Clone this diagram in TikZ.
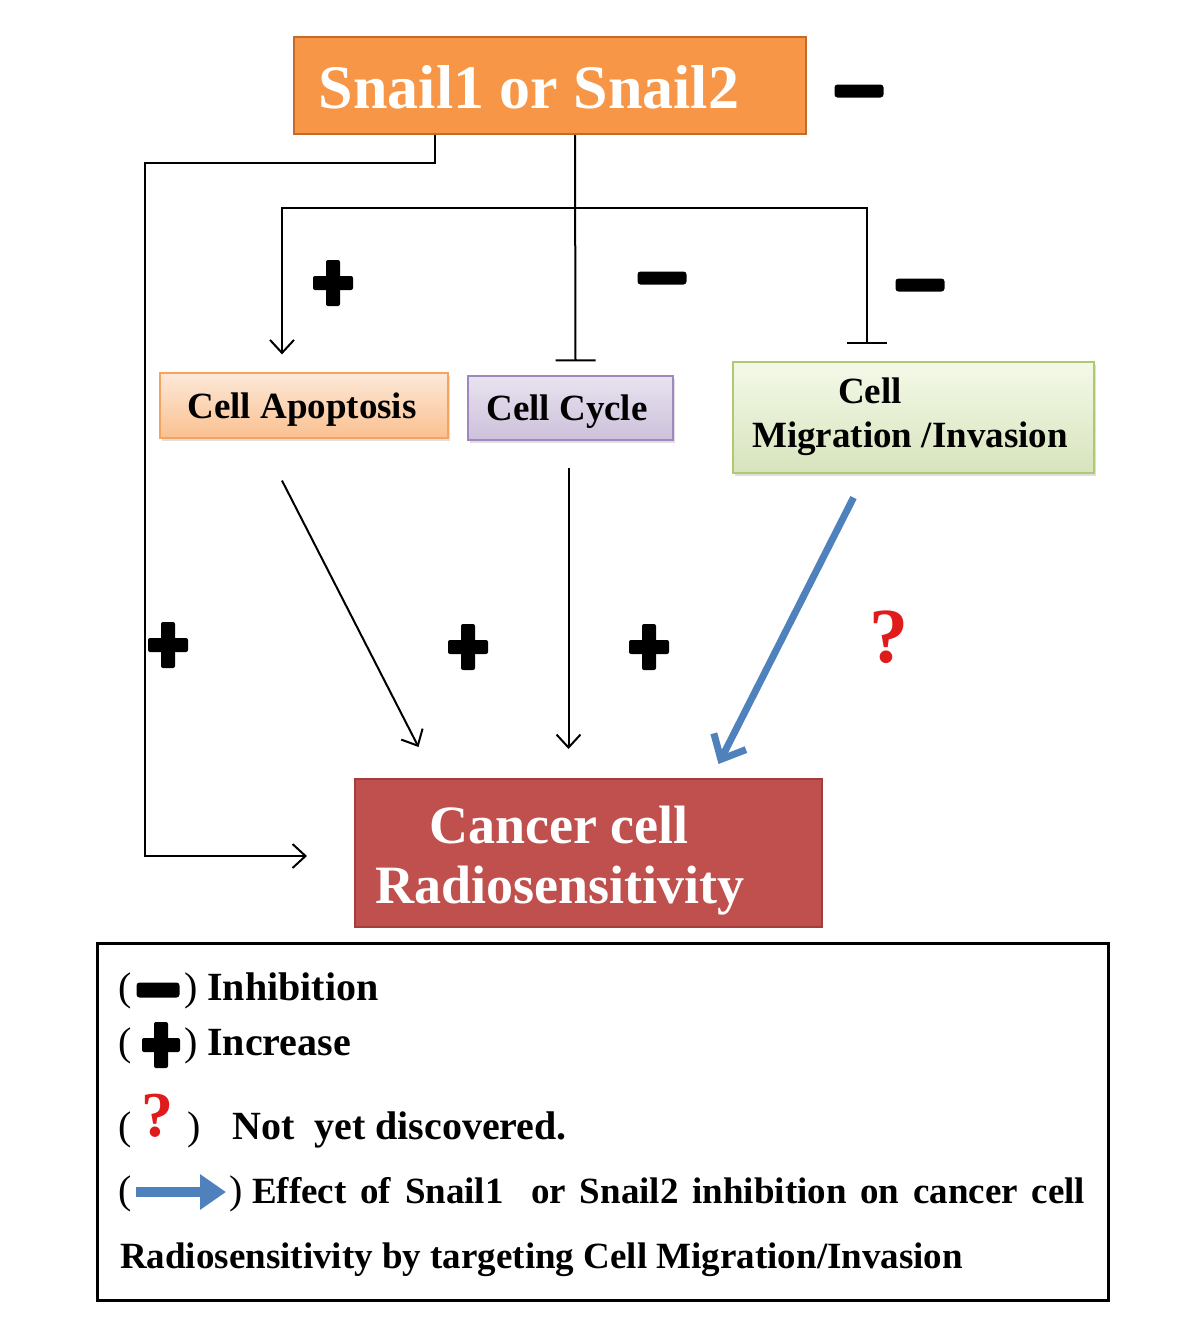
\documentclass[tikz,border=0pt]{standalone}
\usepackage{fontspec}
\setmainfont{Liberation Serif}
\usetikzlibrary{arrows.meta,shadows}
\definecolor{snailorange}{HTML}{F79646}
\definecolor{snailborder}{HTML}{C46A2B}
\definecolor{apoptop}{HTML}{FDE9D9}
\definecolor{apopbot}{HTML}{FAC090}
\definecolor{apopline}{HTML}{F4A460}
\definecolor{cyctop}{HTML}{E9E3F0}
\definecolor{cycbot}{HTML}{CCC1DA}
\definecolor{cycline}{HTML}{9F88BF}
\definecolor{migtop}{HTML}{F4F9E8}
\definecolor{migbot}{HTML}{D7E4BD}
\definecolor{migline}{HTML}{AFC970}
\definecolor{cancerred}{HTML}{C0504D}
\definecolor{cancerline}{HTML}{A33E3B}
\definecolor{arrowblue}{HTML}{4F81BD}
\definecolor{qred}{HTML}{E01B1B}
\begin{document}
\begin{tikzpicture}[x=1pt,y=-1pt,
  box/.style={draw, inner sep=0pt},
  midbox/.style={box, line width=1.2pt, drop shadow={opacity=0.25, shadow xshift=2pt, shadow yshift=-3pt}},
  boxtext/.style={font=\fontsize{37}{40}\selectfont\bfseries, inner sep=0pt, anchor=base},
  bigtext/.style={font=\fontsize{54}{58}\selectfont\bfseries, text=white, inner sep=0pt, anchor=base},
  conn/.style={line width=2pt, black},
  arr/.style={conn, -{Straight Barb[length=13pt,width=24pt]}},
  tbar/.style={conn, -{Bar[width=40pt]}},
  minussign/.style={fill=black, rounded corners=3pt, minimum width=49pt, minimum height=13pt, inner sep=0pt},
  plussign/.style={inner sep=0pt, minimum width=40pt, minimum height=46pt,
    path picture={\fill[black, rounded corners=2pt] ([xshift=-7pt]path picture bounding box.north) rectangle ([xshift=7pt]path picture bounding box.south);
                  \fill[black, rounded corners=2pt] ([yshift=7pt]path picture bounding box.west) rectangle ([yshift=-7pt]path picture bounding box.east);}},
  legtext/.style={font=\fontsize{40}{44}\selectfont\bfseries, inner sep=0pt, anchor=base west},
  legparen/.style={font=\fontsize{40}{44}\selectfont, inner sep=0pt, anchor=base west},
  legsmall/.style={font=\fontsize{37}{40}\selectfont\bfseries, inner sep=0pt, anchor=base west},
  qmark/.style={text=qred, inner sep=0pt, anchor=base, font=\fontsize{#1}{#1}\selectfont\bfseries}
]
\useasboundingbox[fill=white] (0,0) rectangle (1181,1334);

% boxes
\node[box, fill=snailorange, draw=snailborder, line width=2pt, minimum width=512pt, minimum height=97pt] (top) at (550,85.5) {};
\node[bigtext, font=\fontsize{62}{66}\selectfont\bfseries] (toptext) at (529,108) {Snail1 or Snail2};

\node[midbox, top color=apoptop, bottom color=apopbot, draw=apopline, minimum width=288pt, minimum height=65pt] (apop) at (304,405.5) {};
\node[boxtext] (apoptext) at (302,418) {Cell Apoptosis};

\node[midbox, top color=cyctop, bottom color=cycbot, draw=cycline, minimum width=205pt, minimum height=64pt] (cyc) at (570.5,408) {};
\node[boxtext] (cyctext) at (567,420) {Cell Cycle};

\node[midbox, top color=migtop, bottom color=migbot, draw=migline, minimum width=361pt, minimum height=111pt] (mig) at (913.5,417.5) {};
\node[boxtext] (migtext1) at (870,403) {Cell};
\node[boxtext] (migtext2) at (910,447) {Migration /Invasion};

\node[box, fill=cancerred, draw=cancerline, line width=2pt, minimum width=467pt, minimum height=148pt] (cancer) at (588.5,853) {};
\node[bigtext] (cancertext1) at (559,843) {Cancer cell};
\node[bigtext] (cancertext2) at (560,903) {Radiosensitivity};

% connectors from Snail
\coordinate (leftcorner) at (145,163);
\coordinate (branch) at (575,208);
\draw[arr] ([xshift=-115pt]top.south) |- (leftcorner) |- ([xshift=-47pt,yshift=-3pt]cancer.west);
\draw[tbar] ([xshift=25pt]top.south) -- ([shift={(5,-14)}]cyc.north);
\draw[arr] (branch) -| ([shift={(-22,-18)}]apop.north);
\draw[tbar] (branch) -| ([shift={(-47,-17)}]mig.north);

% connectors to cancer
\draw[arr] ([shift={(-22,42)}]apop.south) -- ([shift={(-170,-31)}]cancer.north);
\draw[arr] ([shift={(-2,27)}]cyc.south) -- ([shift={(-20,-29)}]cancer.north);
\draw[line width=7pt, arrowblue, -{Straight Barb[length=20pt,width=36pt]}] ([shift={(-60,24)}]mig.south) -- ([shift={(130,-14)}]cancer.north);

% signs
\node[minussign] (mtop) at (859,91) {};
\node[minussign] (mcyc) at (662,278) {};
\node[minussign] (mmig) at (920,285) {};
\node[plussign] (papop) at (333,283) {};
\node[plussign] (pleft) at (168,645) {};
\node[plussign] (papop2) at (468,647) {};
\node[plussign] (pcyc) at (649,647) {};
\node[qmark=78] (qmain) at (889,662) {?};

% legend
\node[box, draw=black, line width=3pt, minimum width=1011pt, minimum height=357pt] (legend) at (602.5,1121.5) {};

\node[legparen] (lp1a) at (118,1000) {(};
\node[minussign, minimum width=43pt, minimum height=15pt] (lminus) at (158,990) {};
\node[legparen] (lp1b) at (184,1000) {)};
\node[legtext] (l1) at (207,1000) {Inhibition};

\node[legparen] (lp2a) at (118,1055) {(};
\node[plussign, minimum width=38pt, minimum height=46pt] (lplus) at (161,1045) {};
\node[legparen] (lp2b) at (184,1055) {)};
\node[legtext] (l2) at (207,1055) {Increase};

\node[legparen] (lp3a) at (118,1139) {(};
\node[qmark=64] (lq) at (157,1136) {?};
\node[legparen] (lp3b) at (187,1139) {)};
\node[legtext] (l3) at (232,1139) {Not\ \ yet discovered.};

\node[legparen] (lp4a) at (118,1203) {(};
\coordinate (larrowA) at (136,1192);
\coordinate (larrowB) at (226,1192);
\draw[line width=10pt, arrowblue, -{Triangle[length=26pt,width=34pt]}] (larrowA) -- (larrowB);
\node[legparen] (lp4b) at (229,1203) {)};
\node[legsmall] (l4) at (252,1203) {\makebox[833pt][s]{Effect of Snail1 \ or Snail2 inhibition on cancer cell}};
\node[legsmall] (l5) at (120,1268) {Radiosensitivity by targeting Cell Migration/Invasion};
\end{tikzpicture}
\end{document}
